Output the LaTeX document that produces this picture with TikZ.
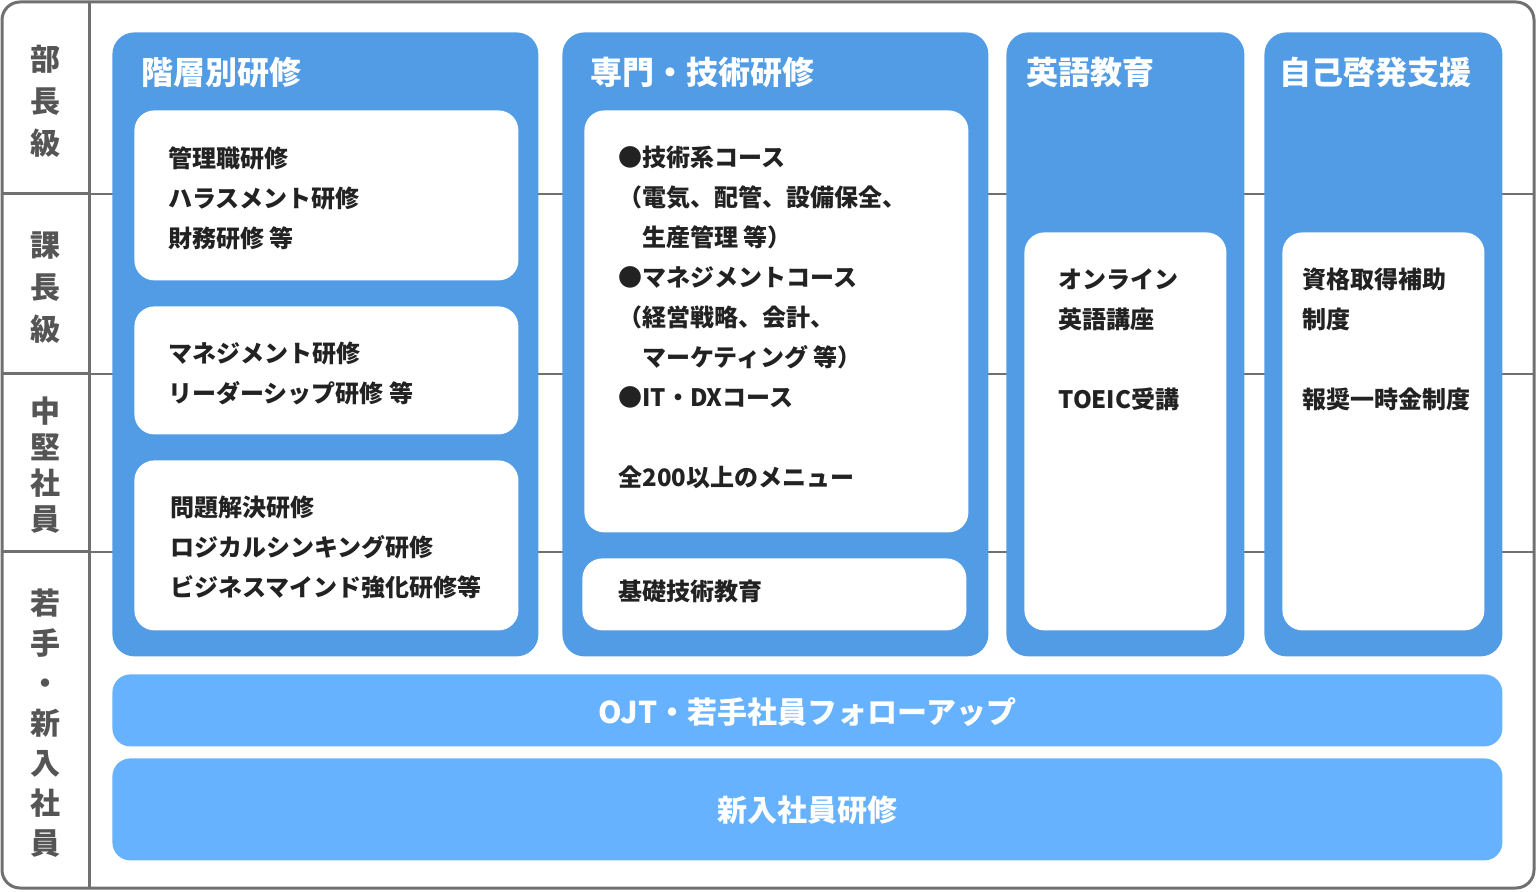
\documentclass[tikz,border=0pt]{standalone}
\usepackage{fontspec}
\setmainfont{Noto Sans CJK JP}
\usepackage{tikz}
\usetikzlibrary{positioning}
\usepackage{xcolor}
\definecolor{colblue}{HTML}{519CE4}
\definecolor{barblue}{HTML}{66B2FE}
\definecolor{framegray}{HTML}{707070}
\definecolor{labgray}{HTML}{555555}
\definecolor{ink}{HTML}{222222}

\begin{document}
\begin{tikzpicture}[x=0.5pt,y=-0.5pt,font=\bfseries,
  col/.style={fill=colblue,rounded corners=11pt,anchor=north west,inner sep=0pt,minimum height=312pt},
  card/.style={fill=white,rounded corners=10pt,anchor=north west,inner sep=0pt},
  bar/.style={fill=barblue,rounded corners=9pt,anchor=north west,inner sep=0pt,minimum width=695pt,text=white},
  ttl/.style={anchor=west,inner sep=0pt,text=white,font=\bfseries\fontsize{16}{20}\selectfont},
  item/.style={anchor=north west,inner sep=0pt,align=left,text=ink,font=\bfseries\fontsize{12}{20}\selectfont},
  lvl/.style={inner sep=0pt,align=center,text=labgray}]
  \useasboundingbox (0,0) rectangle (1537,892);
  % frame and level grid
  \draw[framegray,line width=1.5pt,rounded corners=9pt] (2,2) rectangle (1534,888);
  \draw[framegray,line width=1.5pt] (89,2) -- (89,888);
  \foreach \y in {194,374,552} {
    \draw[framegray,line width=1.5pt] (2,\y) -- (89,\y);
    \draw[framegray,line width=0.75pt] (89,\y) -- (1534,\y);
  }
  \node[lvl,font=\bfseries\fontsize{15}{21}\selectfont] (bucho) at (45,101) {部\\長\\級};
  \node[lvl,font=\bfseries\fontsize{15}{21}\selectfont] (kacho) at (45,288) {課\\長\\級};
  \node[lvl,font=\bfseries\fontsize{15}{18}\selectfont] (chuken) at (45,465) {中\\堅\\社\\員};
  \node[lvl,font=\bfseries\fontsize{15}{20}\selectfont] (wakate) at (45,723) {若\\手\\・\\新\\入\\社\\員};
  % columns
  \node[col,minimum width=213pt] (kaiso) at (112,32) {};
  \node[col,minimum width=213pt] (senmon) at (562,32) {};
  \node[col,minimum width=119pt] (eigo) at (1006,32) {};
  \node[col,minimum width=119pt] (jiko) at (1264,32) {};
  \node[ttl] (kaisoT) at (141,72) {階層別研修};
  \node[ttl] (senmonT) at (590,72) {専門・技術研修};
  \node[ttl] (eigoT) at (1026,72) {英語教育};
  \node[ttl] (jikoT) at (1279,72) {自己啓発支援};
  % cards
  \node[card,minimum width=192pt,minimum height=85pt] (kanri) at (134,110) {};
  \node[card,minimum width=192pt,minimum height=64pt] (mane) at (134,306) {};
  \node[card,minimum width=192pt,minimum height=85pt] (mondai) at (134,460) {};
  \node[card,minimum width=192pt,minimum height=211pt] (course) at (584,110) {};
  \node[card,minimum width=192pt,minimum height=36pt] (kiso) at (582,558) {};
  \node[card,minimum width=101pt,minimum height=199pt] (online) at (1024,232) {};
  \node[card,minimum width=101pt,minimum height=199pt] (shikaku) at (1282,232) {};
  \node[item] (kanriT) at (168,146) {管理職研修\\ハラスメント研修\\財務研修 等};
  \node[item] (maneT) at (168,342) {マネジメント研修\\リーダーシップ研修 等};
  \node[item] (mondaiT) at (170,496) {問題解決研修\\ロジカルシンキング研修\\ビジネスマインド強化研修等};
  \node[item] (courseT) at (618,146) {●技術系コース\\（電気、配管、設備保全、\\\hspace*{12pt}生産管理 等）\\●マネジメントコース\\（経営戦略、会計、\\\hspace*{12pt}マーケティング 等）\\●IT・DXコース\\[20pt]全200以上のメニュー};
  \node[item,anchor=west] (kisoT) at (618,591) {基礎技術教育};
  \node[item] (onlineT) at (1058,268) {オンライン\\英語講座\\[20pt]TOEIC受講};
  \node[item] (shikakuT) at (1302,268) {資格取得補助\\制度\\[20pt]報奨一時金制度};
  % bottom bars
  \node[bar,minimum height=36pt] (ojt) at (112,674) {};
  \node[bar,minimum height=51pt] (shinnyu) at (112,758) {};
  \node[text=white,font=\bfseries\fontsize{15}{20}\selectfont] (ojtT) at ([yshift=-1pt]ojt.center) {OJT・若手社員フォローアップ};
  \node[text=white,font=\bfseries\fontsize{15}{20}\selectfont] (shinnyuT) at ([yshift=-0.5pt]shinnyu.center) {新入社員研修};
\end{tikzpicture}
\end{document}
